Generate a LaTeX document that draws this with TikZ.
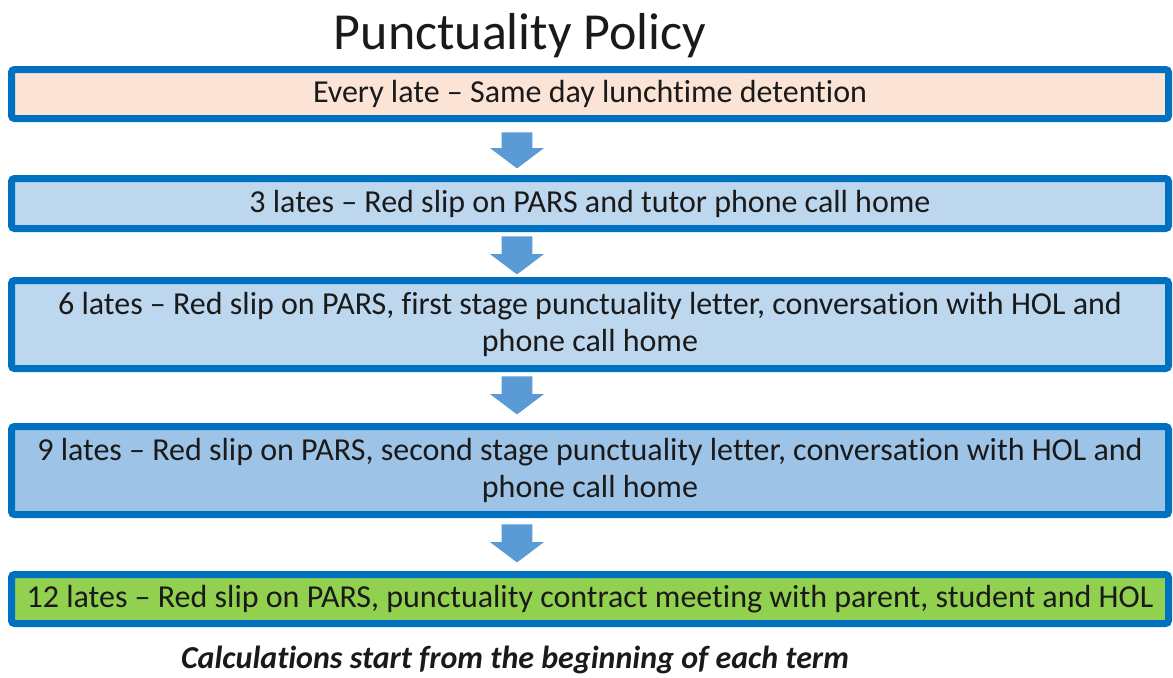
\documentclass[tikz,border=0pt]{standalone}
\usepackage{fontspec}
\setmainfont[Ligatures={TeX,NoCommon}]{Carlito}
\usepackage{xcolor}
\usetikzlibrary{shapes.arrows, positioning}
\definecolor{boxline}{HTML}{0070C0}
\definecolor{peach}{HTML}{FBE4D5}
\definecolor{paleblue}{HTML}{BDD7EE}
\definecolor{midblue}{HTML}{9DC3E6}
\definecolor{limegreen}{HTML}{92D050}
\definecolor{arrowblue}{HTML}{5B9BD5}
\definecolor{txt}{HTML}{1A1A1A}

\begin{document}
\begin{tikzpicture}[x=0.5pt, y=-0.5pt,
    stagebox/.style={draw=boxline, line width=3.5pt, rounded corners=1.5pt,
        minimum width=578.5pt, align=center, text=txt,
        font=\fontsize{16}{18.5}\selectfont, inner sep=0pt},
    downarrow/.style={single arrow, fill=arrowblue, draw=none, rotate=-90, anchor=tail,
        minimum height=19pt, inner xsep=0pt, inner ysep=7.5pt,
        single arrow head extend=5.75pt, single arrow tip angle=106}]
        \useasboundingbox (0,0) rectangle (1173,677);
        \node[text=txt, font=\fontsize{26}{30}\selectfont, anchor=base] (title) at (520,49) {Punctuality Policy};
        \node[stagebox, fill=peach, minimum height=24.5pt] (late1) at (590,94)
            {Every late -- Same day lunchtime detention};
        \node[stagebox, fill=paleblue, minimum height=25pt] (late3) at (590,203.5)
            {3 lates -- Red slip on PARS and tutor phone call home};
        \node[stagebox, fill=paleblue, minimum height=44pt] (late6) at (590,324.5)
            {6 lates -- Red slip on PARS, first stage punctuality letter, conversation with HOL and\\phone call home};
        \node[stagebox, fill=midblue, minimum height=44pt] (late9) at (590,470.5)
            {9 lates -- Red slip on PARS, second stage punctuality letter, conversation with HOL and\\phone call home};
        \node[stagebox, fill=limegreen, minimum height=24.5pt] (late12) at (590,599)
            {12 lates -- Red slip on PARS, punctuality contract meeting with parent, student and HOL};
        \node[downarrow, minimum height=18pt] (step1) at (517,132) {};
        \node[downarrow] (step2) at (517,236) {};
        \node[downarrow] (step3) at (517,376) {};
        \node[downarrow] (step4) at (517,524) {};
        \node[text=txt, font=\fontsize{16}{19}\selectfont\bfseries\itshape, anchor=base] (note) at (515,668)
            {Calculations start from the beginning of each term};
    \end{tikzpicture}
\end{document}
